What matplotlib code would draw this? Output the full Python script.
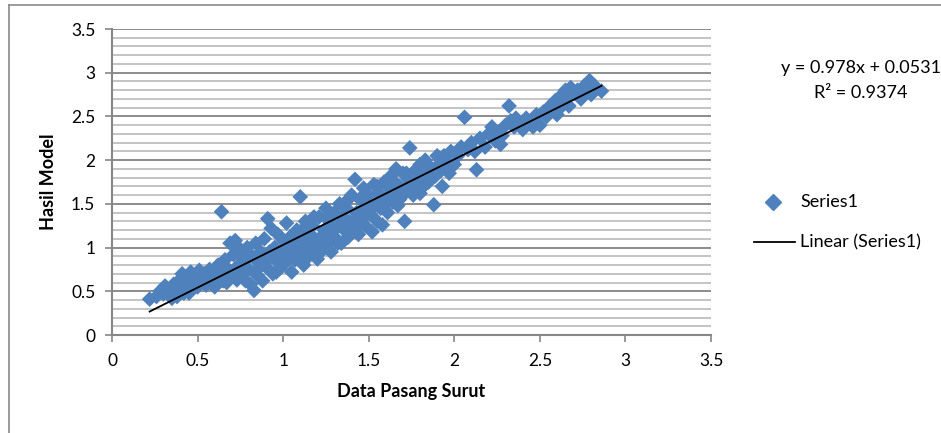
import matplotlib
matplotlib.use("Agg")
import matplotlib.pyplot as plt
from matplotlib.lines import Line2D
import numpy as np

# ---- data ----
data_pasang_surut = [
    0.22, 0.26, 0.28, 0.30, 0.31, 0.33, 0.34, 0.36, 0.37, 0.38, 0.39, 0.40, 0.41, 0.42,
    0.43, 0.44, 0.45, 0.46, 0.47, 0.48, 0.49, 0.50, 0.51, 0.52, 0.53, 0.54, 0.55, 0.56, 0.57, 0.58, 0.59, 0.60, 0.61,
    0.62, 0.63, 0.64, 0.65, 0.66, 0.67, 0.68, 0.69, 0.70, 0.71, 0.72, 0.73, 0.74, 0.75, 0.76, 0.77, 0.78, 0.79, 0.80,
    0.81, 0.82, 0.83, 0.84, 0.85, 0.86, 0.87, 0.88, 0.89, 0.90, 0.91, 0.92, 0.93, 0.94, 0.95, 0.96, 0.97, 0.98, 0.99, 1.00,
    1.01, 1.02, 1.03, 1.04, 1.05, 1.06, 1.07, 1.08, 1.09, 1.10, 1.11, 1.12, 1.13, 1.14, 1.15, 1.16, 1.17, 1.18, 1.19, 1.20,
    1.21, 1.22, 1.23, 1.24, 1.25, 1.26, 1.27, 1.28, 1.29, 1.30, 1.31, 1.32, 1.33, 1.34, 1.35, 1.36, 1.37, 1.38, 1.39, 1.40,
    1.41, 1.42, 1.43, 1.44, 1.45, 1.46, 1.47, 1.48, 1.49, 1.50, 1.51, 1.52, 1.53, 1.54, 1.55, 1.56, 1.57, 1.58, 1.59, 1.60,
    1.61, 1.62, 1.63, 1.64, 1.65, 1.66, 1.67, 1.68, 1.69, 1.70, 1.71, 1.72, 1.73, 1.74, 1.75, 1.76, 1.77, 1.78, 1.79, 1.80,
    1.81, 1.82, 1.83, 1.84, 1.85, 1.86, 1.88, 1.89, 1.90, 1.92, 1.93, 1.95, 1.96, 1.98, 2.00,
    2.02, 2.04, 2.06, 2.08, 2.10, 2.13, 2.15, 2.18, 2.20, 2.22, 2.24, 2.26, 2.28, 2.30, 2.32,
    2.33, 2.35, 2.38, 2.40, 2.42, 2.45, 2.48, 2.50, 2.52, 2.54, 2.56, 2.58, 2.59, 2.60,
    2.61, 2.62, 2.63, 2.64, 2.65, 2.66, 2.68, 2.70, 2.72, 2.74, 2.76, 2.78, 2.79, 2.80, 2.82, 2.86,
    0.35, 0.45, 0.55, 0.65, 0.72, 0.78, 0.85, 0.88, 0.92, 0.96, 1.00, 1.03, 1.07, 1.10, 1.12, 1.15,
    1.18, 1.22, 1.25, 1.28, 1.32, 1.35, 1.38, 1.42, 1.45, 1.48, 1.52, 1.55, 1.58, 1.62, 1.65, 1.68,
    1.72, 1.76, 1.80, 1.84, 1.87, 1.91, 1.94, 1.97, 2.12, 2.27, 2.36, 2.46, 2.55, 2.67, 2.73,
]
hasil_model = [
    0.41, 0.44, 0.50, 0.47, 0.56, 0.52, 0.48, 0.58, 0.50, 0.44, 0.62, 0.55, 0.70, 0.48,
    0.60, 0.66, 0.53, 0.72, 0.58, 0.63, 0.68, 0.55, 0.74, 0.60, 0.66, 0.70, 0.57, 0.63, 0.75, 0.60, 0.68, 0.55, 0.72,
    0.80, 0.64, 1.41, 0.70, 0.86, 0.60, 0.75, 1.05, 0.68, 0.92, 1.08, 0.63, 0.80, 0.98, 0.70, 0.88, 0.62, 1.00, 0.75,
    0.58, 0.90, 0.51, 1.05, 0.68, 0.82, 0.95, 0.62, 1.10, 0.78, 1.33, 0.88, 1.22, 0.70, 1.00, 0.85, 1.15, 0.76, 0.95, 1.08,
    0.82, 1.28, 0.92, 1.12, 0.72, 1.00, 0.86, 1.20, 0.95, 1.58, 1.08, 0.80, 1.30, 1.02, 0.90, 1.15, 1.25, 0.96, 1.08, 0.87,
    1.35, 1.12, 1.00, 1.20, 1.45, 1.05, 1.30, 0.95, 1.18, 1.40, 1.10, 1.25, 1.50, 1.05, 1.35, 1.20, 1.45, 1.12, 1.30, 1.60,
    1.22, 1.78, 1.40, 1.15, 1.55, 1.32, 1.68, 1.25, 1.45, 1.60, 1.38, 1.18, 1.72, 1.50, 1.30, 1.62, 1.45, 1.26, 1.75, 1.55,
    1.40, 1.68, 1.82, 1.52, 1.62, 1.90, 1.48, 1.70, 1.58, 1.85, 1.30, 1.65, 1.78, 2.14, 1.72, 1.60, 1.88, 1.75, 1.68, 1.95,
    1.80, 1.70, 2.00, 1.85, 1.75, 1.92, 1.49, 1.82, 2.05, 1.88, 1.70, 2.00, 1.90, 2.10, 1.95,
    2.05, 2.15, 2.49, 2.12, 2.20, 1.89, 2.25, 2.15, 2.30, 2.38, 2.22, 2.32, 2.28, 2.40, 2.62,
    2.45, 2.38, 2.42, 2.35, 2.48, 2.45, 2.52, 2.40, 2.55, 2.50, 2.62, 2.56, 2.68, 2.52,
    2.70, 2.60, 2.75, 2.65, 2.80, 2.72, 2.83, 2.76, 2.80, 2.70, 2.85, 2.80, 2.91, 2.75, 2.85, 2.79,
    0.42, 0.48, 0.62, 0.62, 0.75, 0.85, 0.75, 0.85, 0.95, 0.72, 0.88, 1.05, 1.12, 0.90, 1.22, 1.05,
    1.35, 0.95, 1.15, 1.38, 1.05, 1.22, 1.55, 1.30, 1.40, 1.62, 1.45, 1.70, 1.48, 1.55, 1.75, 1.55,
    1.85, 1.72, 1.62, 1.95, 1.80, 1.95, 2.05, 1.85, 2.10, 2.18, 2.48, 2.38, 2.58, 2.62, 2.78,
]
trend_slope = 0.978
trend_intercept = 0.0531
r_squared = 0.9374
x_ticks = [0, 0.5, 1, 1.5, 2, 2.5, 3, 3.5]
y_ticks = [0, 0.5, 1, 1.5, 2, 2.5, 3, 3.5]

FONT = ["Lato", "DejaVu Sans"]
plt.rcParams["font.family"] = FONT
FS = 13

W, H = 941, 433
fig = plt.figure(figsize=(W / 100, H / 100), dpi=100)

# outer chart frame (left and top edges visible)
fig.add_artist(Line2D([9 / W, 9 / W], [0, 1 - 5 / H], color="#8a8a8a", lw=1.2))
fig.add_artist(Line2D([9 / W, 1], [1 - 5 / H, 1 - 5 / H], color="#8a8a8a", lw=1.2))

ax = fig.add_axes([112 / W, 1 - 335 / H, (711 - 112) / W, (335 - 29) / H])
ax.set_xlim(0, 3.5)
ax.set_ylim(0, 3.5)

# gridlines
for v in np.arange(0, 36) / 10:
    if abs(v * 2 - round(v * 2)) < 1e-6:
        ax.axhline(v, color="#8c8c8c", lw=1.4, zorder=0.5)
    else:
        ax.axhline(v, color="#c4c4c4", lw=1.4, zorder=0.5)

ax.scatter(data_pasang_surut, hasil_model, marker="D", s=64, color="#4F81BD",
           edgecolors="none", zorder=3, label="Series1")

xs = np.array([min(data_pasang_surut), max(data_pasang_surut)])
ax.plot(xs, trend_slope * xs + trend_intercept, color="black", lw=1.3, zorder=4,
        label="Linear (Series1)")

for s in ["top", "right"]:
    ax.spines[s].set_visible(False)
for s in ["left", "bottom"]:
    ax.spines[s].set_color("#868686")
    ax.spines[s].set_linewidth(1.5)
    ax.spines[s].set_zorder(5)

ax.set_xticks(x_ticks)
ax.set_yticks(y_ticks)
ax.set_xticklabels([f"{t:g}" for t in x_ticks])
ax.set_yticklabels([f"{t:g}" for t in y_ticks])
ax.tick_params(axis="both", direction="out", length=5, width=1.2, color="#868686",
               labelsize=12.5, labelcolor="#000000")
ax.tick_params(axis="x", pad=8)
ax.tick_params(axis="y", pad=7)

ax.set_xlabel("Data Pasang Surut", fontsize=FS, fontweight="bold", labelpad=10)
ax.set_ylabel("Hasil Model", fontsize=FS, fontweight="bold", labelpad=10)

# trendline equation
fig.text(861 / W, 1 - 68 / H, f"y = {trend_slope}x + {trend_intercept}", ha="center", va="center",
         fontsize=FS)
fig.text(861 / W, 1 - 93 / H, f"R² = {r_squared}", ha="center", va="center", fontsize=FS)

# legend
fig.add_artist(Line2D([773 / W], [1 - 202 / H], marker="D", markersize=8,
                      color="#4F81BD", lw=0))
fig.text(800 / W, 1 - 202 / H, "Series1", ha="left", va="center", fontsize=FS)
fig.add_artist(Line2D([754 / W, 795 / W], [1 - 242 / H, 1 - 242 / H], color="black", lw=1.3))
fig.text(800 / W, 1 - 242 / H, "Linear (Series1)", ha="left", va="center", fontsize=FS)

fig.savefig("out.png", dpi=100)
